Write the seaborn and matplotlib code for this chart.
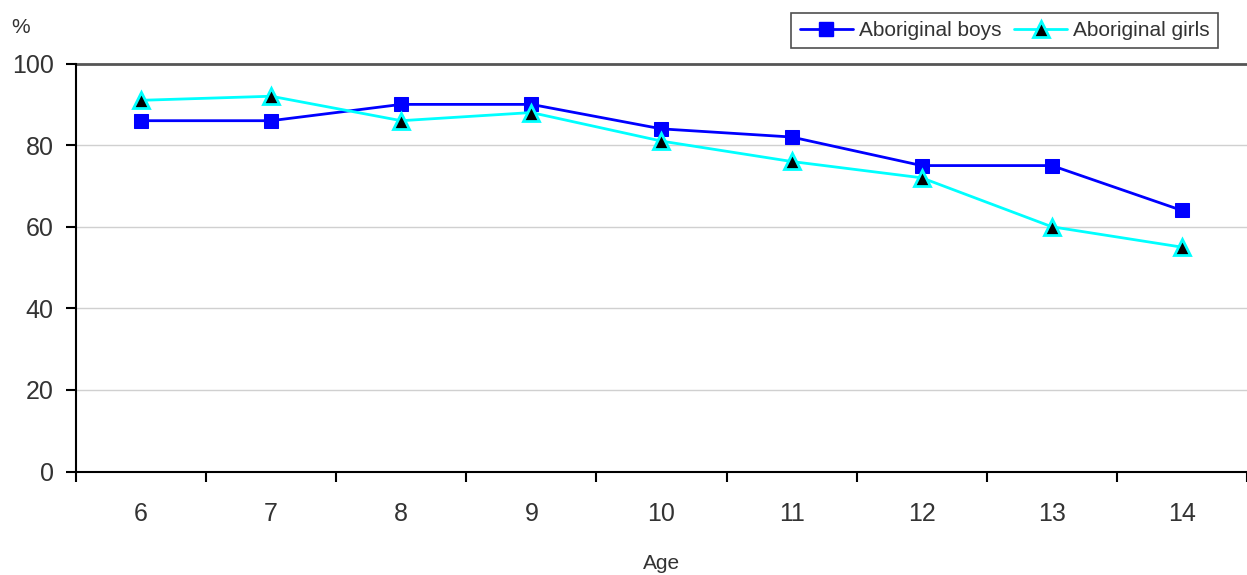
import matplotlib
matplotlib.use("Agg")
import matplotlib.pyplot as plt
import seaborn as sns
import pandas as pd
from matplotlib.lines import Line2D
from matplotlib.ticker import FixedLocator

ages = ["6", "7", "8", "9", "10", "11", "12", "13", "14"]
boys = [86, 86, 90, 90, 84, 82, 75, 75, 64]
girls = [91, 92, 86, 88, 81, 76, 72, 60, 55]
y_ticks = [0, 20, 40, 60, 80, 100]

sns.set_style("white")
plt.rcParams["font.family"] = ["Liberation Sans", "DejaVu Sans"]
text_col = "#333333"

fig = plt.figure(figsize=(12.47, 5.75), dpi=100)
ax = fig.add_axes([0.0609, 0.180, 0.9391, 0.7094])

df = pd.DataFrame({"Age": ages, "boys": boys, "girls": girls})

sns.lineplot(data=df, x="Age", y="boys", ax=ax, color="#0000ff", lw=2,
             marker="s", markersize=10, markeredgecolor="#0000ff",
             markerfacecolor="#0000ff", sort=False)
sns.lineplot(data=df, x="Age", y="girls", ax=ax, color="#00ffff", lw=2,
             marker="^", markersize=11, markeredgecolor="#00ffff",
             markeredgewidth=2, markerfacecolor="black", sort=False)

ax.set_xlim(-0.5, 8.5)
ax.set_ylim(0, 100)
ax.set_yticks(y_ticks)
ax.set_xticks(range(len(ages)))
ax.set_xticklabels(ages)
ax.xaxis.set_minor_locator(FixedLocator([i - 0.5 for i in range(len(ages) + 1)]))

# light gridlines, darker frame line at the top
for v in y_ticks[1:-1]:
    ax.axhline(v, color="#d0d0d0", lw=1, zorder=0)
ax.axhline(100, color="#555555", lw=2, zorder=0, clip_on=False)

for s in ["top", "right"]:
    ax.spines[s].set_visible(False)
for s in ["left", "bottom"]:
    ax.spines[s].set_color("black")
    ax.spines[s].set_linewidth(1.5)

ax.tick_params(axis="y", which="major", direction="out", length=7, width=1.5,
               color="black", labelsize=18, labelcolor=text_col, pad=9, left=True)
ax.tick_params(axis="x", which="major", length=0, labelsize=18,
               labelcolor=text_col, pad=22)
ax.tick_params(axis="x", which="minor", direction="out", length=7, width=1.5,
               color="black", bottom=True)

ax.set_xlabel("Age", fontsize=15, color=text_col, labelpad=20)
ax.set_ylabel("")
fig.text(0.009, 0.943, "%", fontsize=15, color=text_col)

handles = [
    Line2D([], [], color="#0000ff", lw=2, marker="s", markersize=10,
           markerfacecolor="#0000ff", markeredgecolor="#0000ff"),
    Line2D([], [], color="#00ffff", lw=2, marker="^", markersize=11,
           markerfacecolor="black", markeredgecolor="#00ffff", markeredgewidth=2),
]
leg = fig.legend(handles, ["Aboriginal boys", "Aboriginal girls"],
                 loc="upper right", bbox_to_anchor=(0.977, 0.978), ncol=2,
                 fontsize=15, frameon=True, fancybox=False, handlelength=2.55,
                 columnspacing=0.62, handletextpad=0.29, borderpad=0.4,
                 borderaxespad=0, labelcolor=text_col)
leg.get_frame().set_edgecolor("#222222")
leg.get_frame().set_linewidth(1.2)

fig.savefig("out.png", dpi=100)
